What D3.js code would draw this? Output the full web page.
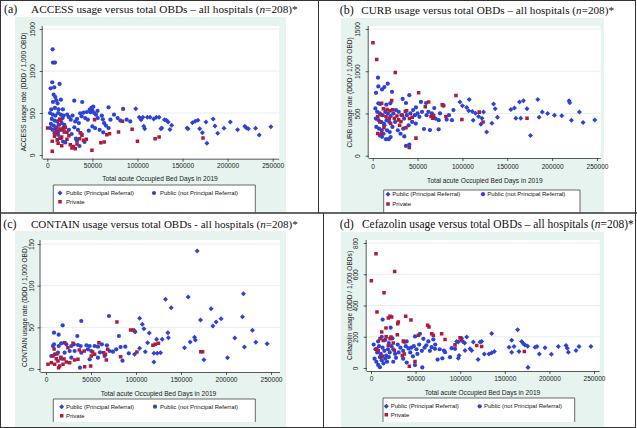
<!DOCTYPE html>
<html>
<head>
<meta charset="utf-8">
<script src="https://cdn.jsdelivr.net/npm/d3@7"></script>
<style>
body { margin: 0; background: #fff; }
svg { display: block; }
</style>
</head>
<body>
<svg width="637" height="428"></svg>
<script>
// x = total acute occupied bed days 2019, y = usage rate (DDD / 1,000 OBD)
var xTicks = [0, 50000, 100000, 150000, 200000, 250000];
var legendLabels = ["Public (Principal Referral)", "Public (not Principal Referral)", "Private"];

// (a) ACCESS
var accessPR = [[98100,552],[102000,450],[104000,421],[106000,450],[107000,341],[108000,313],[111000,450],[114000,450],[118000,430],[121000,450],[124000,450],[126000,313],[127000,321],[130000,420],[132000,413],[134000,393],[136000,305],[138000,353],[155000,321],[156000,313],[161000,385],[164000,401],[167000,413],[169000,313],[172000,266],[176000,393],[177000,139],[184000,429],[186000,345],[189000,258],[196000,318],[203000,393],[211000,302],[219000,341],[221000,321],[223000,313],[231000,318],[235000,238],[248000,337]];
var accessNonPR = [[5900,1258],[6300,1100],[8500,1100],[5500,866],[13600,846],[3700,794],[7700,806],[7000,718],[8900,690],[10000,651],[15100,659],[6300,631],[11400,615],[4400,544],[8500,560],[12500,544],[17300,544],[3000,500],[6000,480],[9000,470],[12000,500],[15000,480],[18000,470],[5000,430],[8000,410],[11000,400],[14000,420],[17000,440],[4000,370],[7000,350],[10000,330],[13000,360],[16000,380],[19000,360],[3500,320],[6000,300],[9000,310],[12000,280],[15000,300],[18000,330],[8000,260],[12000,240],[15000,200],[17500,160],[20000,150],[22000,480],[24000,450],[26000,420],[28000,470],[29900,647],[31000,400],[33000,430],[35000,380],[36500,496],[38700,631],[38000,460],[40200,504],[42000,440],[43900,512],[45000,420],[47000,540],[48000,510],[49000,560],[50000,530],[51000,575],[52000,500],[54000,480],[56000,440],[55700,524],[60500,468],[61600,425],[63000,380],[65000,350],[67900,568],[70000,420],[30000,330],[34000,300],[38000,250],[41300,155],[35700,107],[31700,194],[32800,170],[46000,290],[50000,340],[53000,320],[58000,300],[62000,270],[68000,320],[24000,300],[27000,250],[74000,480],[78000,440],[81000,410],[84100,548],[88000,420],[92000,400]];
var accessPrivate = [[370,321],[13600,425],[15100,413],[10000,290],[14000,310],[17000,300],[19000,321],[21800,270],[5500,163],[8000,222],[11000,180],[14000,200],[5500,44],[15900,214],[18800,274],[21800,187],[25500,123],[27300,83],[31000,75],[29000,100],[36500,266],[38400,234],[35800,194],[40200,175],[43200,187],[49500,56],[52400,421],[59400,147],[63100,155],[66000,242],[69000,254],[79000,274],[83400,401],[94100,306],[100000,163],[119600,194],[124000,214],[172700,202],[9000,260],[12000,140],[16000,110],[20000,330],[24000,230],[33000,130],[12500,360]];

// (b) CURB
var curbPR = [[97200,636],[100000,592],[107600,664],[104800,572],[107000,532],[111000,524],[114600,504],[118000,464],[121800,444],[123500,516],[134700,612],[136500,556],[139000,456],[127000,280],[154000,548],[158000,564],[163600,636],[168000,652],[172000,556],[159500,444],[165000,444],[175900,240],[184000,664],[185500,456],[189000,516],[195000,500],[202500,480],[210700,472],[218900,652],[219600,628],[221500,420],[230400,516],[234500,392],[247500,424],[112000,420],[120600,372],[132800,384]];
var curbNonPR = [[5900,924],[3700,744],[6300,820],[10400,784],[13000,812],[16700,852],[21500,756],[40800,716],[6300,620],[8500,612],[15200,604],[19600,620],[33400,672],[37100,624],[48200,572],[53800,636],[59400,624],[68600,564],[79000,592],[88300,420],[82400,428],[73500,420],[63800,304],[57100,316],[73500,312],[14800,196],[17800,196],[10400,224],[35200,228],[37100,116],[40800,132],[3000,560],[5000,520],[8000,500],[11000,480],[14000,520],[17000,500],[20000,470],[3500,440],[6500,420],[9500,400],[12500,380],[15500,420],[18500,400],[4000,340],[7000,320],[10000,300],[13000,360],[16000,300],[19000,280],[22000,340],[25000,400],[28000,300],[31000,260],[34000,320],[23000,500],[26000,540],[29000,520],[32000,480],[35000,440],[38000,480],[42000,500],[45000,540],[47000,480],[50000,500],[52000,460],[55000,520],[60000,480],[62000,520],[66000,500],[70000,440],[75000,500],[85000,480],[90000,540],[44000,400],[48000,380],[40000,360],[12000,260],[20000,220],[8000,240]];
var curbPrivate = [[300,1336],[4500,1140],[25200,984],[51200,745],[92800,712],[10000,620],[21100,652],[11900,556],[16000,548],[19300,532],[22300,544],[5600,464],[9300,484],[14800,464],[18500,444],[24100,444],[28900,424],[31500,404],[36400,524],[37800,532],[44100,456],[62300,636],[58600,580],[65000,464],[66800,444],[77500,604],[78700,596],[81600,464],[99400,428],[118700,516],[123000,400],[172000,444],[48200,208],[40800,96],[10000,264],[5600,264],[37100,332],[27000,470],[33000,480],[12500,330],[20000,380],[8000,400],[30000,360],[41000,440],[68000,476]];

// (c) CONTAIN
var containPR = [[168000,141.6],[219400,90.4],[158000,86.4],[132800,83.6],[139100,73.6],[183500,72.4],[218300,62.8],[104000,60.8],[194600,60.4],[171700,58.8],[189000,56.4],[185400,51.6],[107000,53.6],[108800,48.4],[98400,45.6],[99000,44.4],[114700,43.2],[135400,43.6],[229400,46.4],[136000,37.6],[165000,38],[166000,34.8],[160200,32.4],[209800,37.2],[233100,32],[245700,30.4],[220500,26.4],[153900,25.6],[112900,31.6],[122900,35.6],[129100,35.6],[104000,24.8],[110300,20.8],[119900,18.8],[123600,18.8],[127300,19.6],[98400,17.6],[119900,8.4],[175400,11.2],[201700,13.6]];
var containNonPR = [[70000,63.6],[81000,39.6],[39200,57.6],[18500,52.4],[8900,43.6],[14100,41.2],[34800,39.6],[7800,27.6],[8900,29.6],[14100,27.6],[17000,30.8],[22600,29.6],[28100,27.6],[31000,29.6],[35500,28.8],[38500,27.6],[45000,28.4],[48500,27.6],[54000,27.6],[57700,26.8],[62100,29.6],[67700,28.4],[70700,21.6],[74400,20.8],[78100,23.6],[82900,26.4],[88100,26.8],[46600,23.6],[50300,21.6],[39200,19.6],[31800,21.6],[26300,21.6],[20700,19.6],[13300,19.6],[9600,17.6],[5900,15.6],[17000,12.4],[28100,13.6],[37700,1.6],[48500,11.6],[57700,13.6],[65100,15.6],[60000,20],[92000,18.8],[85000,10]];
var containPrivate = [[78800,56.4],[94000,46.8],[97000,46.8],[121400,29.6],[125000,30.8],[118800,28.4],[172000,20.8],[174000,20.8],[58800,31.6],[68500,23.6],[66000,17.6],[64000,19.6],[82900,14.8],[101000,20.4],[20700,31.6],[30000,30.8],[24400,25.6],[37000,22.8],[42500,21.6],[51800,20.4],[2200,5.6],[5900,7.6],[9600,5.6],[13300,9.6],[15200,3.6],[18900,5.6],[22600,8.4],[26300,7.6],[7800,15.6],[11500,12.4],[42900,2.8],[49600,3.6],[50300,15.6],[54000,17.6],[31800,10.8],[35500,11.6],[67000,10.8],[12000,18],[16500,14],[14000,1.6],[20000,12],[9000,24]];

// (d) Cefazolin
var cefazolinPR = [[164400,245],[135300,221],[101600,191],[107300,198],[96000,170],[97900,166],[124000,170],[122200,166],[114700,166],[103000,170],[105000,160],[157700,178],[168900,170],[170800,155],[172600,148],[175600,140],[154700,133],[160300,138],[165900,105],[157700,101],[183900,133],[186100,138],[188700,90],[195100,129],[202200,88],[210000,138],[218600,144],[220100,127],[221200,101],[229800,112],[233200,138],[246600,138],[176000,4],[138300,105],[135300,97],[127000,90],[132300,90],[120000,54],[112900,112],[111000,123],[105400,112],[97900,62],[98700,80]];
var cefazolinNonPR = [[13100,310],[22000,258],[90400,127],[94200,123],[81800,112],[83000,101],[74700,54],[80000,62],[88600,69],[49300,19],[57500,4],[71700,123],[68000,133],[54900,219],[49300,202],[58700,187],[64300,170],[69900,183],[5000,120],[7000,100],[9000,140],[11000,90],[13000,130],[15000,110],[17000,80],[19000,120],[21000,100],[23000,140],[25000,120],[27000,90],[4000,60],[6000,40],[8000,20],[10000,70],[12000,50],[14000,30],[16000,60],[18000,40],[20000,70],[3000,150],[8000,170],[12000,200],[16000,180],[20000,160],[24000,190],[30000,150],[33000,130],[36000,110],[39000,140],[42000,125],[45000,130],[48000,140],[51000,120],[54000,150],[57000,110],[60000,130],[40000,170],[44000,100],[47000,75],[52000,90],[62000,145],[36000,60],[40000,35],[28000,65],[31000,100],[25000,40],[10000,5],[66000,110],[72000,150],[77000,120]];
var cefazolinPrivate = [[5600,731],[400,559],[26500,617],[14600,482],[6700,359],[19400,320],[21300,331],[23200,327],[30600,295],[29900,284],[38900,331],[44800,307],[12000,230],[16800,256],[29500,213],[21300,187],[22400,198],[10100,187],[13800,176],[63500,273],[65000,262],[53100,209],[68000,219],[69900,209],[79200,219],[83000,183],[99800,193],[94200,148],[37400,166],[26200,112],[35100,80],[37400,90],[49300,41],[43000,11],[12700,75],[6400,123],[8200,112],[19400,144],[118500,144],[124000,138],[171900,105],[36200,172],[101000,180],[17000,200],[25000,160]];

var BLUE = "#2c43d6", RED = "#b01a3c", MINT = "#e6f3ef", GRID = "#e1eaec";
var SANS = "'Liberation Sans', Arial, sans-serif", SERIF = "'Liberation Serif', 'Times New Roman', serif";

var panels = [
  { label: "(a)", name: "ACCESS usage versus total OBDs \u2013 all hospitals (", ytitle: "ACCESS usage rate (DDD / 1,000 OBD)",
    yTicks: [0, 500, 1000, 1500], pr: accessPR, npr: accessNonPR, priv: accessPrivate,
    clip: [1, 1, 317, 211.5], mint: [15, 17, 271, 197], plot: [42.7, 26, 236.5, 132.7],
    xr: [47.3, 272.7], yr: [155, 29], labY: 167.6, xtY: 180.6, ylabOff: 4.3, ytX: 26.4,
    leg: { x: 53.3, y: 185, w: 202, h: 40, rows: [193, 201.7], mk: [60, 154], tx: [66, 160] },
    tl: { lx: 4, x: 31, y: 12.8, w: 267 } },
  { label: "(b)", name: "CURB usage versus total OBDs \u2013 all hospitals (", ytitle: "CURB usage rate (DDD / 1,000 OBD)",
    yTicks: [0, 500, 1000, 1500], pr: curbPR, npr: curbNonPR, priv: curbPrivate,
    clip: [319, 1, 316, 211.5], mint: [341, 18, 263, 196], plot: [368.7, 26, 232, 132],
    xr: [372.7, 597], yr: [155.7, 29], labY: 169, xtY: 182.5, ylabOff: 6, ytX: 351.5,
    leg: { x: 383.7, y: 190, w: 196.3, h: 40, rows: [194.2, 204], mk: [388, 483], tx: [392.3, 487.3] },
    tl: { lx: 339.7, x: 361.3, y: 14.2, w: 253 } },
  { label: "(c)", name: "CONTAIN usage versus total OBDs - all hospitals (", ytitle: "CONTAIN usage rate (DDD / 1,000 OBD)",
    yTicks: [0, 50, 100, 150], pr: containPR, npr: containNonPR, priv: containPrivate,
    clip: [1, 214, 322, 213.5], mint: [15, 231, 271, 197], plot: [40.5, 240, 239.5, 132],
    xr: [46, 271], yr: [369, 244], labY: 381.6, xtY: 395.6, ylabOff: 3.6, ytX: 27,
    leg: { x: 53.3, y: 399, w: 202, h: 23, rows: [406.7, 415.7], mk: [61.7, 155], tx: [66, 160] },
    tl: { lx: 3.3, x: 31, y: 227.5, w: 267 } },
  { label: "(d)", name: "Cefazolin usage versus total OBDs \u2013 all hospitals (", ytitle: "Cefazolin usage (DDD / 1,000 OBDs)",
    yTicks: [0, 200, 400, 600, 800], pr: cefazolinPR, npr: cefazolinNonPR, priv: cefazolinPrivate,
    clip: [324, 214, 311, 213.5], mint: [341, 232, 263, 196], plot: [366.7, 240, 233, 131],
    xr: [371, 594], yr: [368, 243], labY: 380.8, xtY: 394.8, ylabOff: 5.5, ytX: 351.5,
    leg: { x: 383, y: 398, w: 191.7, h: 24, rows: [406.3, 414.7], mk: [386.3, 479.7], tx: [390.7, 484] },
    tl: { lx: 339.7, x: 362, y: 228.2, w: 272 } }
];

var svg = d3.select("svg");
var defs = svg.append("defs");

var circleSym = d3.symbol().type(d3.symbolCircle).size(14);
var diamondSym = d3.symbol().type(d3.symbolSquare).size(12.5);
var squareSym = d3.symbol().type(d3.symbolSquare).size(12.5);

function drawMarks(g, data, sym, color, rot, x, y) {
  g.selectAll(null).data(data).enter().append("path")
    .attr("d", sym)
    .attr("fill", color)
    .attr("transform", function (d) {
      return "translate(" + x(d[0]) + "," + y(d[1]) + ")" + (rot ? " rotate(45)" : "");
    });
}

panels.forEach(function (p, i) {
  defs.append("clipPath").attr("id", "clip" + i)
    .append("rect").attr("x", p.clip[0]).attr("y", p.clip[1]).attr("width", p.clip[2]).attr("height", p.clip[3]);
  var g = svg.append("g").attr("clip-path", "url(#clip" + i + ")");

  // title: panel letter, then the title scaled to its width in the reference
  g.append("text").attr("x", p.tl.lx).attr("y", p.tl.y).attr("font-family", SERIF).attr("font-size", 12)
    .attr("fill", "#111").text(p.label);
  var t2 = g.append("text").attr("x", p.tl.x).attr("y", p.tl.y).attr("font-family", SERIF).attr("font-size", 12)
    .attr("fill", "#111");
  t2.append("tspan").text(p.name);
  t2.append("tspan").attr("font-style", "italic").text("n");
  t2.append("tspan").text("=208)*");
  var w = t2.node().getComputedTextLength();
  t2.attr("font-size", Math.min(13, 12 * p.tl.w / w));

  // graph region + plot region
  g.append("rect").attr("x", p.mint[0]).attr("y", p.mint[1]).attr("width", p.mint[2]).attr("height", p.mint[3]).attr("fill", MINT);
  g.append("rect").attr("x", p.plot[0]).attr("y", p.plot[1]).attr("width", p.plot[2]).attr("height", p.plot[3]).attr("fill", "#fff");

  var x = d3.scaleLinear().domain([0, 250000]).range(p.xr);
  var y = d3.scaleLinear().domain([0, d3.max(p.yTicks)]).range(p.yr);
  var axX = p.plot[0], axY = p.plot[1] + p.plot[3];

  // grid
  g.selectAll(null).data(p.yTicks.slice(1)).enter().append("line")
    .attr("x1", axX).attr("x2", p.plot[0] + p.plot[2])
    .attr("y1", function (d) { return y(d); }).attr("y2", function (d) { return y(d); })
    .attr("stroke", GRID).attr("stroke-width", 0.8);

  // x axis
  var xa = g.append("g").attr("transform", "translate(0," + axY + ")")
    .call(d3.axisBottom(x).tickValues(xTicks).tickFormat(d3.format("d")).tickSize(3).tickSizeOuter(0));
  xa.select(".domain").attr("d", "M" + axX + ",0.5H" + (p.plot[0] + p.plot[2])).attr("stroke", "#333").attr("stroke-width", 0.8);
  xa.selectAll(".tick line").attr("stroke", "#333").attr("stroke-width", 0.8);
  xa.selectAll(".tick text").attr("y", p.labY - axY).attr("dy", null)
    .attr("font-family", SANS).attr("font-size", 6.6).attr("fill", "#222");

  g.append("text").attr("x", (p.xr[0] + p.xr[1]) / 2).attr("y", p.xtY).attr("text-anchor", "middle")
    .attr("font-family", SANS).attr("font-size", 6.6).attr("fill", "#222")
    .text("Total acute Occupied Bed Days in 2019");

  // y axis
  var ya = g.append("g").attr("transform", "translate(" + axX + ",0)")
    .call(d3.axisLeft(y).tickValues(p.yTicks).tickFormat(d3.format("d")).tickSize(3).tickSizeOuter(0));
  ya.select(".domain").attr("d", "M-0.5," + p.plot[1] + "V" + axY).attr("stroke", "#333").attr("stroke-width", 0.8);
  ya.selectAll(".tick line").attr("stroke", "#333").attr("stroke-width", 0.8);
  ya.selectAll(".tick text").attr("x", null).attr("dy", null).attr("text-anchor", "middle")
    .attr("transform", "translate(" + (-p.ylabOff - 3) + ",0) rotate(-90)")
    .attr("font-family", SANS).attr("font-size", 6.6).attr("fill", "#222");

  g.append("text").attr("transform", "translate(" + p.ytX + "," + (p.yr[0] + p.yr[1]) / 2 + ") rotate(-90)")
    .attr("text-anchor", "middle").attr("font-family", SANS).attr("font-size", 6.6).attr("fill", "#222")
    .text(p.ytitle);

  // markers
  var mg = g.append("g");
  drawMarks(mg, p.pr, diamondSym, BLUE, true, x, y);
  drawMarks(mg, p.npr, circleSym, BLUE, false, x, y);
  drawMarks(mg, p.priv, squareSym, RED, false, x, y);

  // legend (box runs off the bottom of the panel, as in the reference)
  var L = p.leg;
  g.append("rect").attr("x", L.x).attr("y", L.y).attr("width", L.w).attr("height", L.h).attr("fill", "#fff");
  g.append("path").attr("fill", "none").attr("stroke", "#444").attr("stroke-width", 0.8)
    .attr("d", "M" + L.x + "," + (L.y + L.h) + "V" + L.y + "H" + (L.x + L.w) + "V" + (L.y + L.h));
  var items = [
    { sym: diamondSym, c: BLUE, rot: true, mx: L.mk[0], tx: L.tx[0], y: L.rows[0], t: legendLabels[0] },
    { sym: circleSym, c: BLUE, rot: false, mx: L.mk[1], tx: L.tx[1], y: L.rows[0], t: legendLabels[1] },
    { sym: squareSym, c: RED, rot: false, mx: L.mk[0], tx: L.tx[0], y: L.rows[1], t: legendLabels[2] }
  ];
  items.forEach(function (it) {
    g.append("path").attr("d", it.sym).attr("fill", it.c)
      .attr("transform", "translate(" + it.mx + "," + it.y + ")" + (it.rot ? " rotate(45)" : ""));
    g.append("text").attr("x", it.tx).attr("y", it.y + 2.1).attr("font-family", SANS).attr("font-size", 6)
      .attr("fill", "#111").text(it.t);
  });
});

// frame and dividers
svg.append("rect").attr("x", 0.5).attr("y", 0.5).attr("width", 635).attr("height", 427)
  .attr("fill", "none").attr("stroke", "#333");
svg.append("line").attr("x1", 318.5).attr("x2", 318.5).attr("y1", 0).attr("y2", 213).attr("stroke", "#333");
svg.append("line").attr("x1", 0).attr("x2", 637).attr("y1", 213).attr("y2", 213).attr("stroke", "#333").attr("stroke-width", 1.3);
svg.append("line").attr("x1", 323.5).attr("x2", 323.5).attr("y1", 213).attr("y2", 428).attr("stroke", "#333");
</script>
</body>
</html>
